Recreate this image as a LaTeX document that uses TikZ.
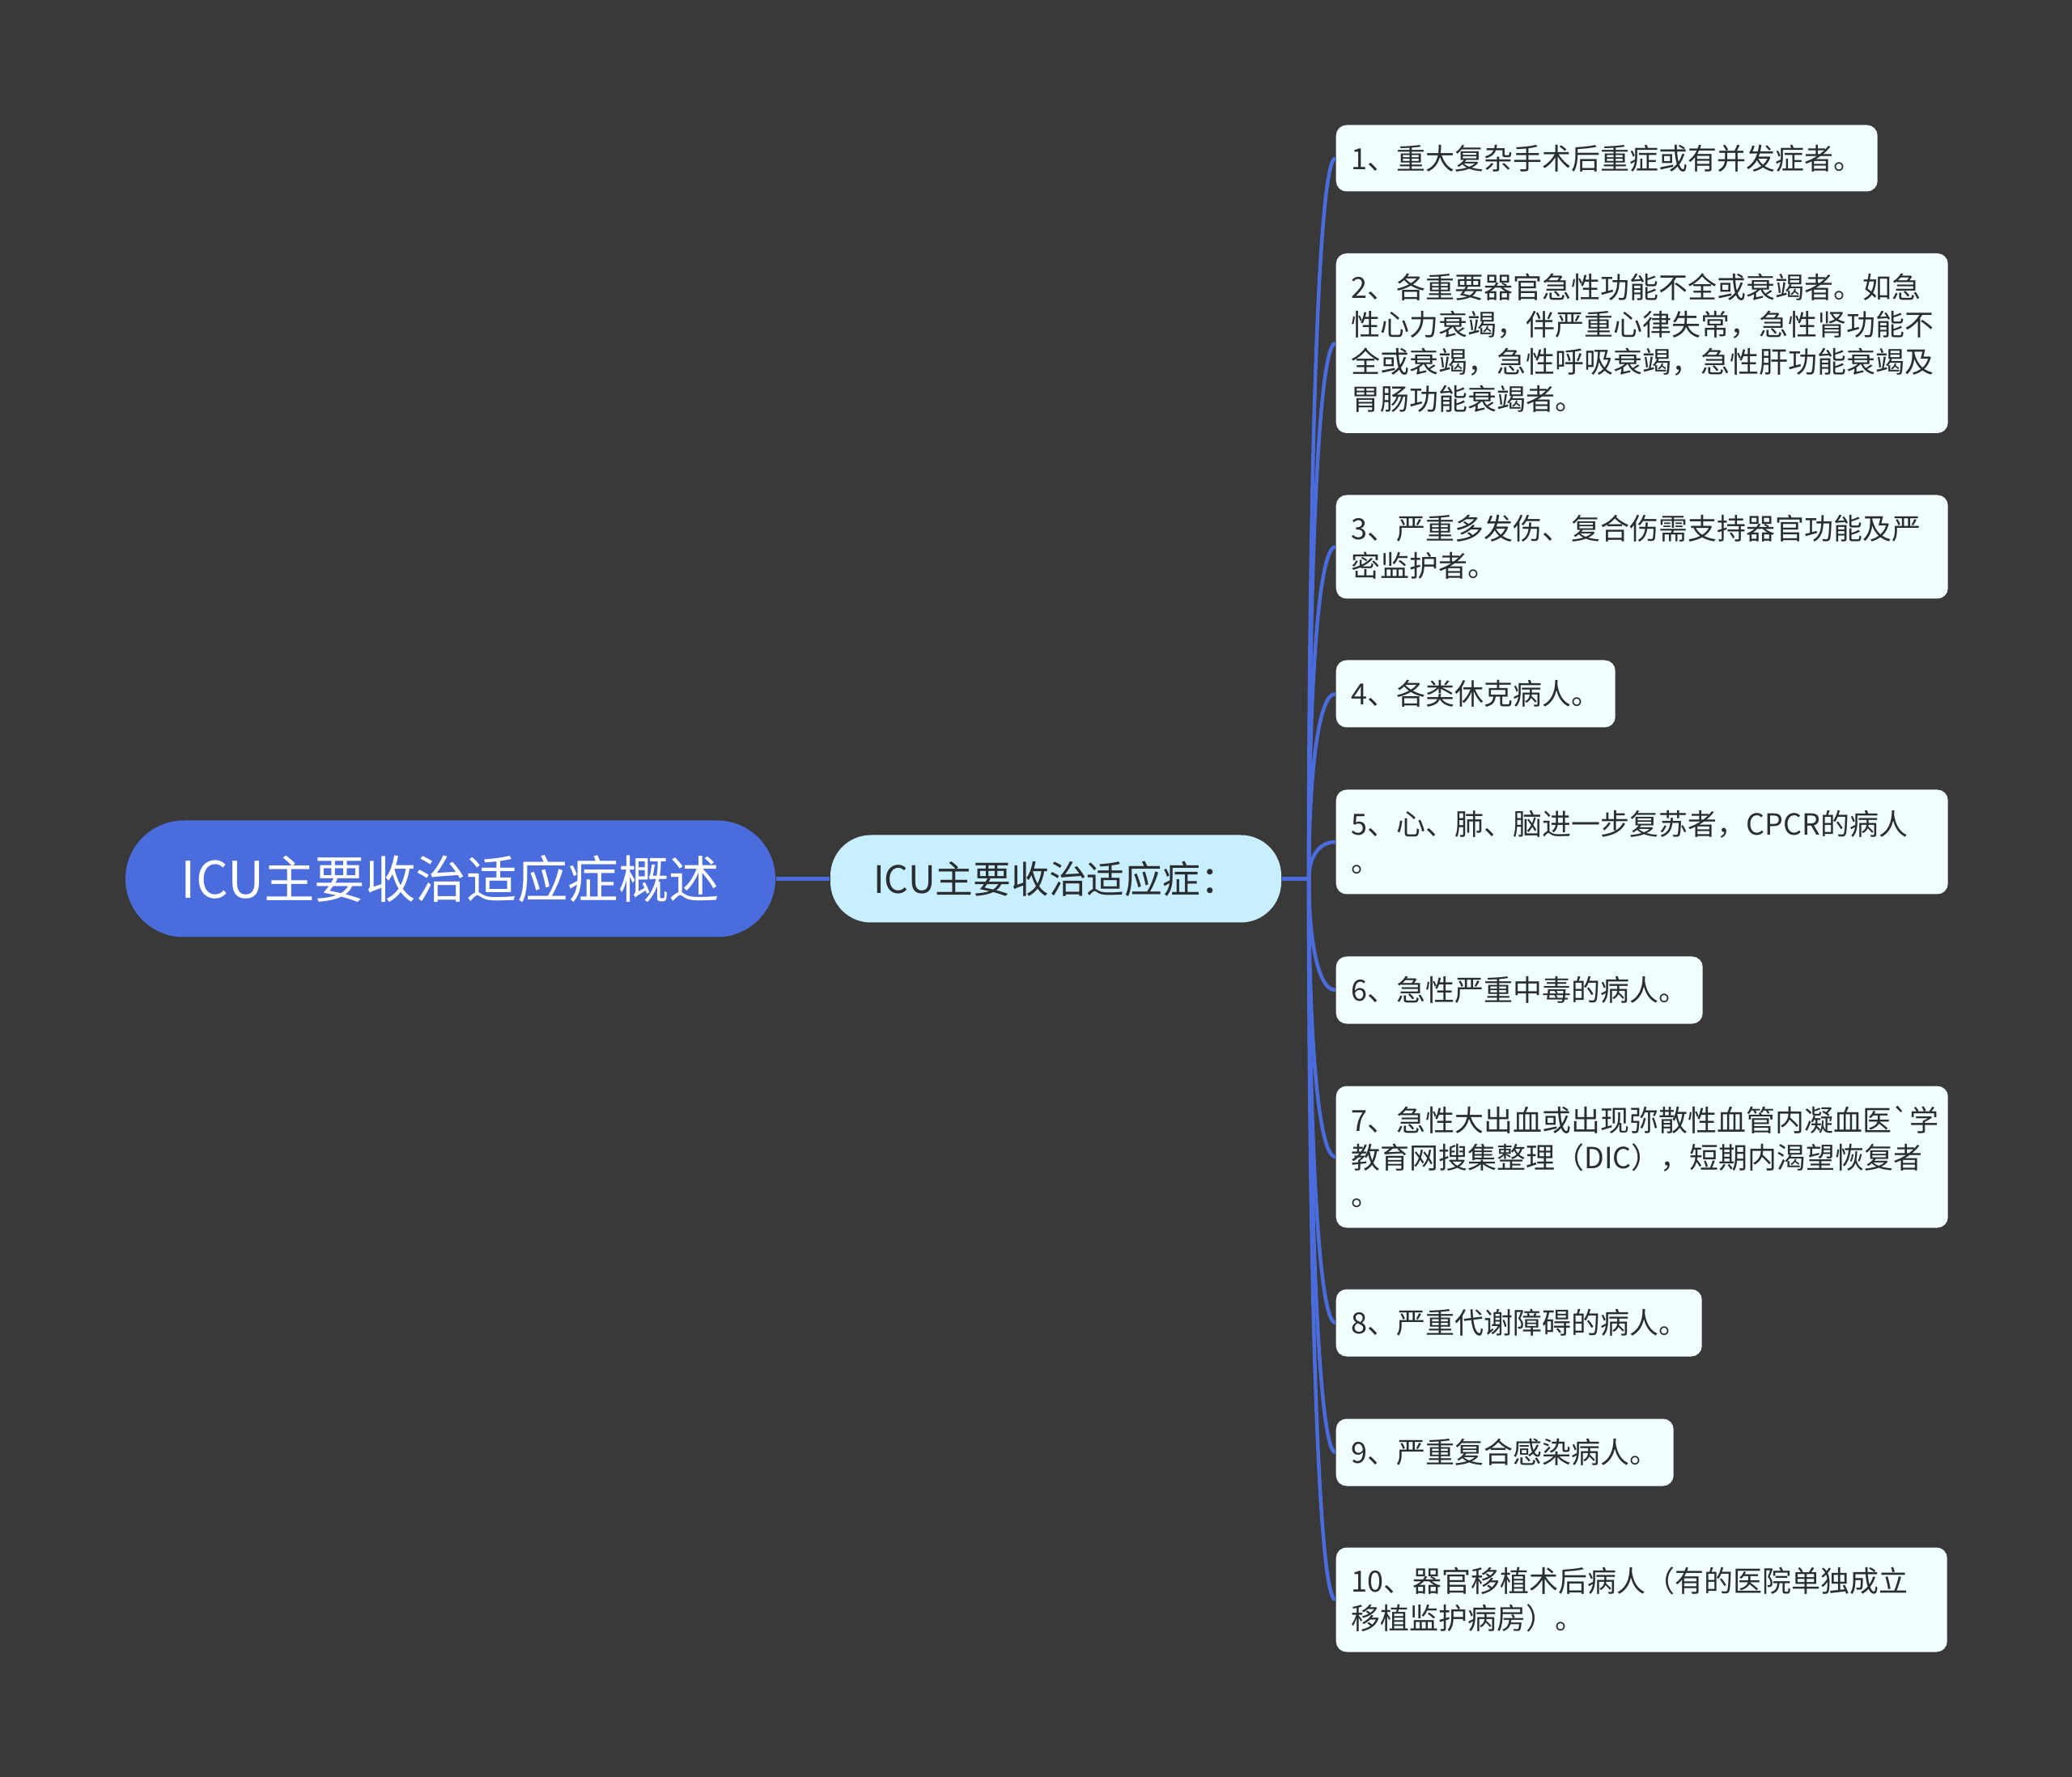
\documentclass[tikz,border=0pt]{standalone}
\usepackage{fontspec}
\setmainfont{Noto Sans CJK SC}[Ligatures=TeXOff]
\usetikzlibrary{calc}
\definecolor{backdrop}{HTML}{3A393A}
\definecolor{branchblue}{HTML}{4B6CDC}
\definecolor{subblue}{HTML}{C8EFFF}
\definecolor{itemwhite}{HTML}{F1FFFF}
\definecolor{inktext}{HTML}{2A2E30}

\begin{document}
\begin{tikzpicture}[align=left]
    \tikzstyle{rootbox} = [fill=branchblue,text=white,rounded corners=.72cm,minimum width=8.03cm,minimum height=1.44cm,inner sep=0pt,align=center,font=\fontsize{17.8}{22}\selectfont]
    \tikzstyle{subbox} = [fill=subblue,text=inktext,rounded corners=.5cm,minimum width=5.57cm,minimum height=1.08cm,inner sep=0pt,align=center,font=\fontsize{13.3}{17}\selectfont]
    \tikzstyle{itembox} = [fill=itemwhite,text=inktext,rounded corners=.13cm,anchor=west,inner xsep=.19cm,inner ysep=0pt,font=\fontsize{10.24}{13.1}\selectfont]
    \tikzstyle{branch} = [branchblue,line width=.045cm]
      \fill[backdrop] (0,0) rectangle (25.6,-21.95);
      \useasboundingbox (0,0) rectangle (25.6,-21.95);
      \node[rootbox] (icuRoot) at (5.565,-10.855) {ICU主要收治适应症概述};
      \node[subbox] (icuSub) at (13.045,-10.855) {ICU主要收治适应症：};
      \coordinate (trunk) at (16.17,-10.855);
      \node[itembox,text width=6.31cm,minimum height=.82cm] (item1) at (16.5,-1.955) {1、重大复杂手术后重症或有并发症者。};
      \node[itembox,text width=7.18cm,minimum height=2.22cm] (item2) at (16.5,-4.24) {2、各重要器官急性功能不全或衰竭者。如急\\性心力衰竭，伴严重心律失常，急性肾功能不\\全或衰竭，急性呼吸衰竭，急性肝功能衰竭及\\胃肠功能衰竭者。};
      \node[itembox,text width=7.18cm,minimum height=1.28cm] (item3) at (16.5,-6.755) {3、严重多发伤、复合伤需支持器官功能及严\\密监护者。};
      \node[itembox,text width=3.07cm,minimum height=.83cm] (item4) at (16.5,-8.57) {4、各类休克病人。};
      \node[itembox,text width=7.18cm,minimum height=1.29cm] (item5) at (16.5,-10.4) {5、心、肺、脑进一步复苏者，CPCR的病人\\。};
      \node[itembox,text width=4.15cm,minimum height=.83cm] (item6) at (16.5,-12.23) {6、急性严重中毒的病人。};
      \node[itembox,text width=7.18cm,minimum height=1.75cm] (item7) at (16.5,-14.29) {7、急性大出血或出现弥散性血管内凝血医`学\\教育网搜集整理（DIC），短期内渴望恢复者\\。};
      \node[itembox,text width=4.14cm,minimum height=.83cm] (item8) at (16.5,-16.34) {8、严重代谢障碍的病人。};
      \node[itembox,text width=3.79cm,minimum height=.83cm] (item9) at (16.5,-17.94) {9、严重复合感染病人。};
      \node[itembox,text width=7.17cm,minimum height=1.29cm] (item10) at (16.5,-19.76) {10、器官移植术后病人（有的医院单独成立\\移植监护病房）。};
      \draw[branch] (icuRoot) -- (icuSub);
      \draw[branch] (icuSub) -- (trunk);
      \foreach \t in {item1,item2,item3,item4,item5,item6,item7,item8,item9,item10} \draw[branch] (trunk) .. controls ($ (trunk)!.5!(trunk |- \t.west) $) and ($ (trunk |- \t.west)+(.1,0) $) .. (\t.west);
  \end{tikzpicture}
\end{document}
